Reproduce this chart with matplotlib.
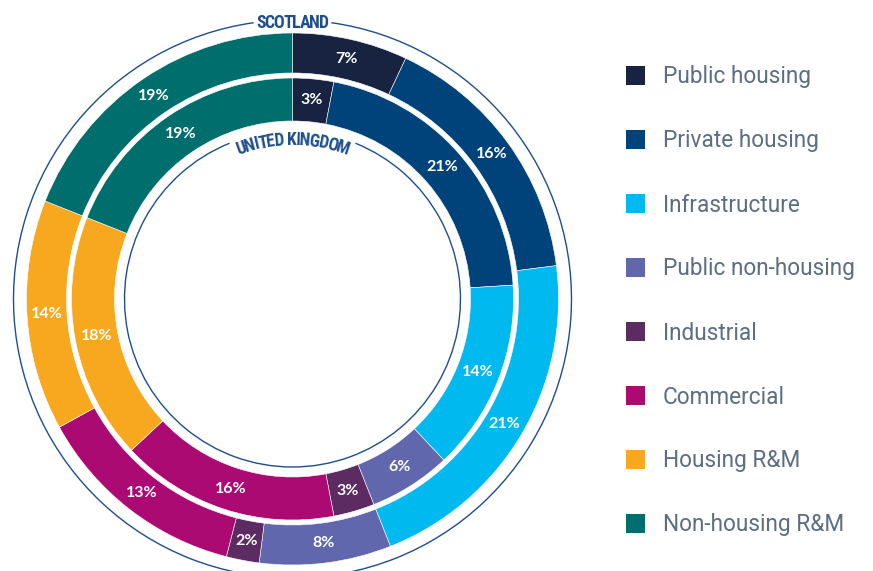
import matplotlib
matplotlib.use("Agg")
import numpy as np
import matplotlib.pyplot as plt
from matplotlib.patches import Arc, Rectangle
from matplotlib.textpath import text_to_path
from matplotlib.font_manager import FontProperties

# data (percent shares)
categories = ["Public housing", "Private housing", "Infrastructure", "Public non-housing",
              "Industrial", "Commercial", "Housing R&M", "Non-housing R&M"]
scotland = [7, 16, 21, 8, 2, 13, 14, 19]
uk = [3, 21, 14, 6, 3, 16, 18, 19]
colors = ["#172341", "#00437b", "#00b9ef", "#6167ad", "#5c2b62", "#aa0a72", "#f7a81f", "#006e6c"]

ring_title_outer = "SCOTLAND"
ring_title_inner = "UNITED KINGDOM"

W, H = 873, 571
BLUE = "#1d4f8c"
cond_font = ["Roboto Condensed", "DejaVu Sans Condensed", "Liberation Sans Narrow",
             "Roboto", "DejaVu Sans"]

fig = plt.figure(figsize=(W / 100, H / 100), dpi=100)
ax = fig.add_axes([0, 0, 1, 1])
cx, cy = 292.5, H - 299

# outer ring = Scotland, inner ring = UK
r_out, w_out = 266, 40
r_in, w_in = 221, 43
lbl = dict(color="white", fontsize=11.5, fontweight="bold", family=["Lato", "DejaVu Sans"])
ax.pie(scotland, radius=r_out, center=(cx, cy), startangle=90, counterclock=False,
       colors=colors, wedgeprops=dict(width=w_out, edgecolor="white", linewidth=0.4),
       autopct="%.0f%%", pctdistance=(r_out - w_out / 2) / r_out, textprops=lbl)
ax.pie(uk, radius=r_in, center=(cx, cy), startangle=90, counterclock=False,
       colors=colors, wedgeprops=dict(width=w_in, edgecolor="white", linewidth=0.4),
       autopct="%.0f%%", pctdistance=(r_in - w_in / 2) / r_in, textprops=lbl)

ax.set_xlim(0, W)
ax.set_ylim(0, H)
ax.set_aspect("equal")
ax.axis("off")

# thin outline circles with a gap for the titles
ax.add_patch(Arc((cx, cy), 2 * 279, 2 * 279, theta1=98, theta2=442, color=BLUE, lw=1.0))
ax.add_patch(Arc((cx, cy), 2 * 168, 2 * 168, theta1=112, theta2=428, color=BLUE, lw=1.0))


def tw(s, fp):
    if not s:
        return 0.0
    w, h, d = text_to_path.get_text_width_height_descent(s, fp, ismath=False)
    return w * 100 / 72


def char_offsets(s, target, fmax, squeeze=0.9):
    # font size and per-character centre offsets (px) so the word spans ~target px
    fp = FontProperties(family=cond_font, weight="bold", stretch="condensed", size=10)
    fs = min(fmax, 10 * target / (tw(s, fp) * squeeze))
    fp = FontProperties(family=cond_font, weight="bold", stretch="condensed", size=fs)
    total = tw(s, fp)
    offs = [((tw(s[:i], fp) + tw(s[:i + 1], fp)) / 2 - total / 2) * squeeze
            for i in range(len(s))]
    return fp, offs


# straight title above the rings
fp1, offs1 = char_offsets(ring_title_outer, 72, 16)
for ch, s in zip(ring_title_outer, offs1):
    ax.text(cx + s, H - 23, ch, ha="center", va="center", fontproperties=fp1, color=BLUE)

# curved title along the inner circle
fp2, offs2 = char_offsets(ring_title_inner, 114, 16)
r_txt = 159
for ch, s in zip(ring_title_inner, offs2):
    if ch == " ":
        continue
    a = np.pi / 2 - s / r_txt
    ax.text(cx + r_txt * np.cos(a), cy + r_txt * np.sin(a), ch,
            rotation=np.degrees(a) - 90, rotation_mode="anchor",
            ha="center", va="center", fontproperties=fp2, color=BLUE)

# legend
for i, (name, c) in enumerate(zip(categories, colors)):
    y = H - (75 + 64 * i)
    ax.add_patch(Rectangle((626, y - 9.5), 19, 19, color=c, lw=0))
    ax.text(663, y - 2, name, ha="left", va="center", fontsize=16.3,
            color="#5c6f82", family=["Roboto", "DejaVu Sans"])

fig.savefig("out.png", dpi=100)
